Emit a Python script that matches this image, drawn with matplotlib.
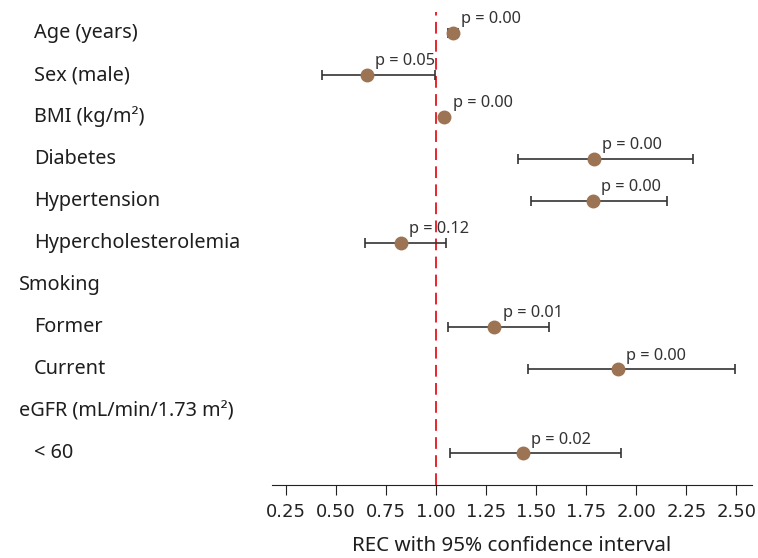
import matplotlib.pyplot as plt
from matplotlib.transforms import blended_transform_factory

plt.rcParams['font.family'] = ['Noto Sans', 'DejaVu Sans']

# 行标签（indent=True 表示缩进的子项）
labels = ['Age (years)', 'Sex (male)', 'BMI (kg/m²)', 'Diabetes', 'Hypertension',
          'Hypercholesterolemia', 'Smoking', 'Former', 'Current',
          'eGFR (mL/min/1.73 m²)', '< 60']
indent = [True, True, True, True, True, True, False, True, True, False, True]

# 估计值与置信区间（None 表示标题行）
est = [1.083, 0.654, 1.042, 1.789, 1.784, 0.825, None, 1.291, 1.907, None, 1.433]
lo = [1.058, 0.429, 1.030, 1.409, 1.474, 0.645, None, 1.058, 1.460, None, 1.070]
hi = [1.111, 0.995, 1.055, 2.283, 2.153, 1.050, None, 1.564, 2.494, None, 1.924]
pvals = ['0.00', '0.05', '0.00', '0.00', '0.00', '0.12', None, '0.01', '0.00', None, '0.02']

xticks = [0.25, 0.50, 0.75, 1.00, 1.25, 1.50, 1.75, 2.00, 2.25, 2.50]

fig = plt.figure(figsize=(7.58, 5.58), dpi=100)
ax = fig.add_axes([272 / 758, 73 / 558, 480 / 758, 473 / 558])

for i, e in enumerate(est):
    if e is None:
        continue
    ax.errorbar(e, i, xerr=[[e - lo[i]], [hi[i] - e]], fmt='none',
                ecolor='#333333', elinewidth=1.2, capsize=3.5, capthick=1.2, zorder=2)
    ax.plot(e, i, 'o', color='#9c7453', markersize=9, zorder=3)
    ax.annotate('p = ' + pvals[i], (e, i), xytext=(6, 4), textcoords='offset points',
                fontsize=11.8, color='#333333', ha='left', va='bottom')

ax.axvline(1.0, color='#e8141c', linestyle=(0, (6.5, 3.5)), linewidth=1.3, zorder=1)

trans = blended_transform_factory(fig.transFigure, ax.transData)
for i, lab in enumerate(labels):
    x = 34 / 758 if indent[i] else 19 / 758
    ax.text(x, i, lab, transform=trans, fontsize=14.3, color='#1e1e1e', va='center', ha='left')

ax.set_xlim(0.181, 2.578)
ax.set_ylim(10.76, -0.5)
ax.set_xticks(xticks)
ax.set_xticklabels(['%.2f' % t for t in xticks], family=['DejaVu Sans'], fontsize=13, color='#222222')
ax.set_yticks([])
for s in ['top', 'right', 'left']:
    ax.spines[s].set_visible(False)
ax.spines['bottom'].set_color('#222222')
ax.tick_params(axis='x', length=7, color='#222222', pad=6)
ax.set_xlabel('REC with 95% confidence interval', fontsize=14.8, color='#1e1e1e', labelpad=11)

fig.savefig('out.png', dpi=100)
